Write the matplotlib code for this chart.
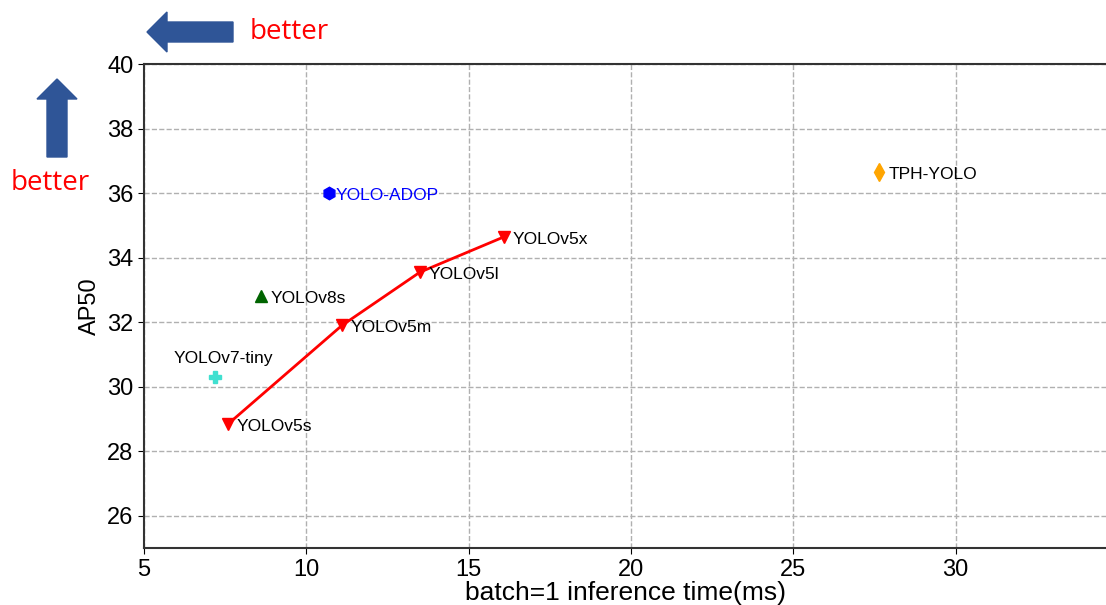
import matplotlib.pyplot as plt
import numpy as np

# data
v5_names = ['YOLOv5s', 'YOLOv5m', 'YOLOv5l', 'YOLOv5x']
v5_time = [7.6, 11.1, 13.5, 16.1]
v5_ap = [28.85, 31.9, 33.55, 34.65]

other_names = ['YOLOv8s', 'YOLOv7-tiny', 'YOLO-ADOP', 'TPH-YOLO']
other_time = [8.6, 7.2, 10.7, 27.65]
other_ap = [32.8, 30.3, 36.0, 36.65]
other_marker = ['^', 'P', 'h', 'd']
other_color = ['darkgreen', 'turquoise', 'blue', 'orange']

plt.rcParams['font.family'] = ['Liberation Sans', 'DejaVu Sans']

fig = plt.figure(figsize=(11.06, 6.05), dpi=100)
ax = fig.add_axes([0.130, 0.094, 0.872, 0.800])

ax.plot(v5_time, v5_ap, color='red', marker='v', markersize=9, linewidth=2)
for n, x, y in zip(v5_names, v5_time, v5_ap):
    ax.annotate(n, (x, y), xytext=(6, -5), textcoords='offset points', fontsize=12.5)

for n, x, y, m, c in zip(other_names, other_time, other_ap, other_marker, other_color):
    ax.plot(x, y, linestyle='none', marker=m, color=c, markersize=9)
    if n == 'YOLOv7-tiny':
        ax.annotate(n, (x, y), xytext=(-30, 10), textcoords='offset points', fontsize=12.5)
    elif n == 'YOLO-ADOP':
        ax.annotate(n, (x, y), xytext=(5, -5), textcoords='offset points', fontsize=12.5, color='blue')
    else:
        ax.annotate(n, (x, y), xytext=(7, -5), textcoords='offset points', fontsize=12.5)

ax.set_xlim(5, 34.7)
ax.set_ylim(25, 40)
ax.set_xticks([5, 10, 15, 20, 25, 30])
ax.set_yticks(np.arange(26, 41, 2))
ax.tick_params(labelsize=17, length=4)
ax.grid(True, linestyle='--', color='#b0b0b0', linewidth=1)
ax.spines['right'].set_visible(False)
for s in ['left', 'bottom', 'top']:
    ax.spines[s].set_linewidth(1.5)
    ax.spines[s].set_color('#333333')
ax.set_xlabel('batch=1 inference time(ms)', fontsize=19, labelpad=0)
ax.set_ylabel('AP50', fontsize=17)

# "better" arrows
fig.patches.append(plt.matplotlib.patches.FancyArrow(
    233 / 1106, 1 - 32 / 605, -86 / 1106, 0, width=20 / 605, head_width=40 / 605,
    head_length=20 / 1106, length_includes_head=True, color='#2F5597',
    transform=fig.transFigure))
fig.patches.append(plt.matplotlib.patches.FancyArrow(
    57 / 1106, 1 - 157 / 605, 0, 78 / 605, width=20 / 1106, head_width=40 / 1106,
    head_length=20 / 605, length_includes_head=True, color='#2F5597',
    transform=fig.transFigure))
fig.text(250 / 1106, 1 - 32 / 605, 'better', color='red', fontsize=20,
         family='Open Sans', va='center')
fig.text(50 / 1106, 1 - 183 / 605, 'better', color='red', fontsize=20,
         family='Open Sans', va='center', ha='center')

fig.savefig('out.png', dpi=100)
